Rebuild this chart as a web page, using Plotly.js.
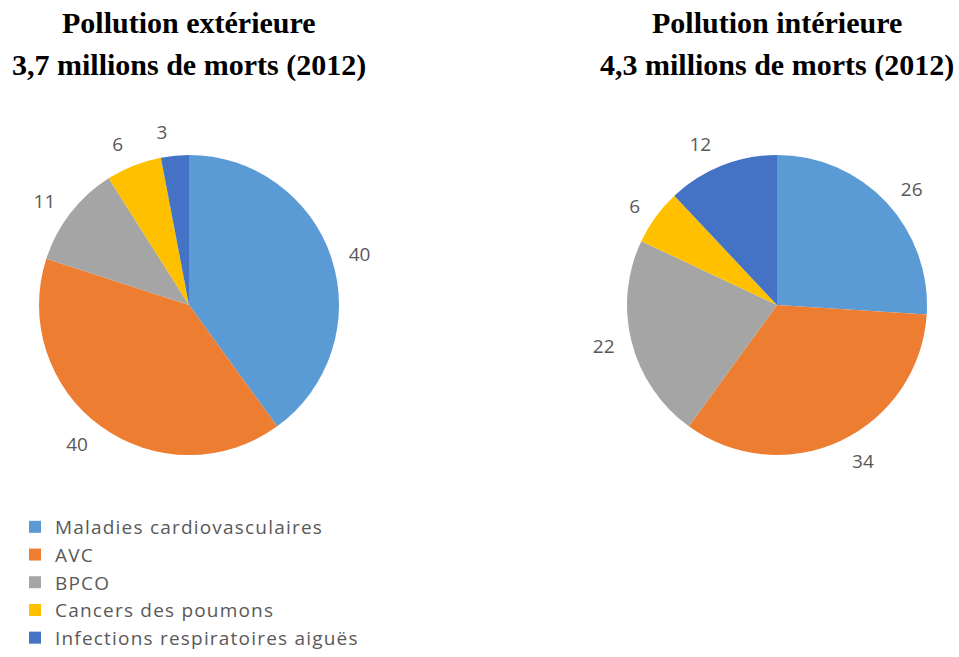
<!DOCTYPE html>
<html>
<head>
<meta charset="utf-8">
<script src="https://cdn.plot.ly/plotly-3.0.1.min.js"></script>
<style>
html,body{margin:0;padding:0;background:#fff;}
#chart{width:959px;height:657px;}
path.textline{display:none !important;}
g.legend text.legendtext{letter-spacing:1.2px;}
g.legend g.scrollbox{clip-path:none !important;}
</style>
</head>
<body>
<div id="chart"></div>
<script>
const categories = ["Maladies cardiovasculaires", "AVC", "BPCO", "Cancers des poumons", "Infections respiratoires aiguës"];
const exterieurValues = [40, 40, 11, 6, 3];
const interieurValues = [26, 34, 22, 6, 12];
const colors = ["#5B9BD5", "#ED7D31", "#A5A5A5", "#FFC000", "#4472C4"];
const titleLeft = ["Pollution extérieure", "3,7 millions de morts (2012)"];
const titleRight = ["Pollution intérieure", "4,3 millions de morts (2012)"];

const W = 959, H = 657;
function dom(cx, cy, r) {
  return {x: [(cx - r) / W, (cx + r) / W], y: [1 - (cy + r) / H, 1 - (cy - r) / H]};
}
const labelFont = {family: "'Open Sans', Lato, sans-serif", size: 19, color: "#595959"};

// visible pie (no text)
function pie(values, d, showlegend) {
  return {
    type: "pie",
    labels: categories,
    values: values,
    sort: false,
    direction: "clockwise",
    rotation: 0,
    domain: d,
    marker: {colors: colors, line: {width: 0}},
    textinfo: "none",
    showlegend: showlegend,
    hoverinfo: "label+value"
  };
}
// transparent, slightly larger pie carrying outside value labels for the selected slices
function labelPie(values, d, shown) {
  return {
    type: "pie",
    labels: categories,
    values: values,
    sort: false,
    direction: "clockwise",
    rotation: 0,
    domain: d,
    marker: {colors: colors.map(() => "rgba(0,0,0,0)"), line: {width: 0}},
    texttemplate: values.map((v, i) => shown.includes(i) ? "%{value}" : ""),
    textposition: "outside",
    outsidetextfont: labelFont,
    showlegend: false,
    hoverinfo: "skip"
  };
}

const data = [
  pie(exterieurValues, dom(189, 305, 150), true),
  pie(interieurValues, dom(777, 305, 150), false),
  labelPie(exterieurValues, dom(189, 305, 161), [0, 1, 2, 3]),
  labelPie(exterieurValues, dom(189, 305, 161), [4]),
  labelPie(interieurValues, dom(777, 305, 161), [0, 1, 2, 3, 4])
];

const titleFont = {family: "'Liberation Serif', 'DejaVu Serif', serif", size: 30, color: "#000"};
function ann(text, xpx, ypx) {
  return {text: "<b>" + text + "</b>", x: xpx / W, y: 1 - ypx / H, xref: "paper", yref: "paper",
    xanchor: "center", yanchor: "middle", showarrow: false, font: titleFont};
}

const layout = {
  width: W, height: H,
  margin: {l: 0, r: 0, t: 0, b: 0},
  paper_bgcolor: "#fff",
  showlegend: true,
  legend: {
    x: 15 / W, y: 0, xanchor: "left", yanchor: "bottom",
    orientation: "v",
    font: {family: "'Open Sans', Lato, sans-serif", size: 19, color: "#595959"},
    itemclick: false, tracegroupgap: 0
  },
  annotations: [
    ann(titleLeft[0], 189, 22), ann(titleLeft[1], 189, 65),
    ann(titleRight[0], 777, 22), ann(titleRight[1], 777, 65)
  ]
};

Plotly.newPlot("chart", data, layout, {displayModeBar: false, staticPlot: true});
</script>
</body>
</html>
